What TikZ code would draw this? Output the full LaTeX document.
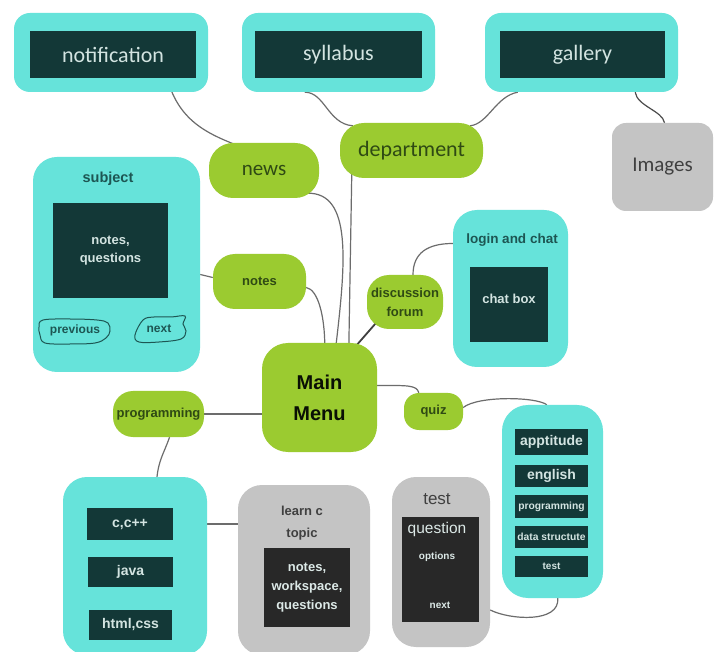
\documentclass[tikz,border=0pt]{standalone}
\usepackage{fontspec}
\setmainfont{Liberation Sans}
\newfontfamily\calibri{Carlito}
\usepackage{tikz}
\usetikzlibrary{backgrounds}
\definecolor{aquabg}{HTML}{66E3DA}
\definecolor{tealdk}{HTML}{133837}
\definecolor{pale}{HTML}{D3E4E1}
\definecolor{leaf}{HTML}{9BCB30}
\definecolor{leafdk}{HTML}{2F4A14}
\definecolor{stone}{HTML}{C4C4C4}
\definecolor{coal}{HTML}{282828}
\definecolor{ink}{HTML}{1D5653}
\definecolor{wire}{HTML}{6C6C6C}
\tikzset{wh/.style 2 args = {minimum width = #1, minimum height = #2}}
\tikzset{panel/.style = {fill = aquabg, inner sep = 0, rounded corners = 24pt}}
\tikzset{greybox/.style = {fill = stone, inner sep = 0, rounded corners = 24pt}}
\tikzset{screen/.style = {fill = tealdk, inner sep = 0, text = pale, align = center,
                          font = \bfseries\fontsize{13}{18}\selectfont}}
\tikzset{topic/.style = {fill = leaf, inner sep = 0, rounded corners = 22pt, text = leafdk,
                         align = center, font = \bfseries\fontsize{13}{19}\selectfont}}
\tikzset{heading/.style = {text = ink, font = \bfseries\fontsize{13.5}{15}\selectfont}}
\tikzset{greytext/.style = {text = pale!80!white, align = center}}
\tikzset{link/.style = {draw = wire, line width = 1.2pt}}
\tikzset{scribble/.style = {draw = ink, line width = 1pt}}

\begin{document}
\begin{tikzpicture}[x = 1pt, y = -1pt]
    \useasboundingbox (0, 0) rectangle (718, 652);

    % top row
    \node [panel, wh = {194pt}{79pt}, rounded corners = 16pt] (notifbox) at (111, 52.5) {};
    \node [screen, wh = {166pt}{47pt}, font = \calibri\fontsize{22}{26}\selectfont] (notif) at (113, 54.5) {notification};
    \node [panel, wh = {193pt}{79pt}, rounded corners = 16pt] (sylbox) at (338.5, 52.5) {};
    \node [screen, wh = {167pt}{47pt}, font = \calibri\fontsize{22}{26}\selectfont] (syl) at (338.5, 54.5) {syllabus};
    \node [panel, wh = {193pt}{79pt}, rounded corners = 16pt] (galbox) at (581.5, 52.5) {};
    \node [screen, wh = {165pt}{47pt}, font = \calibri\fontsize{22}{26}\selectfont] (gal) at (582.5, 54.5) {gallery};
    \node [greybox, wh = {101pt}{88pt}, rounded corners = 14pt, text = black!75,
           font = \calibri\fontsize{21}{25}\selectfont] (images) at (662.5, 167) {Images};

    \node [topic, wh = {143pt}{55pt}, rounded corners = 24pt, font = \calibri\fontsize{22}{26}\selectfont] (dept) at (411.5, 150.5) {department};
    \node [topic, wh = {110pt}{55pt}, rounded corners = 24pt, font = \calibri\fontsize{21}{25}\selectfont] (news) at (264, 170.5) {news};

    % subject
    \node [panel, wh = {167pt}{215pt}] (subjbox) at (116.5, 264.5) {};
    \node [heading, font = \bfseries\fontsize{14.5}{16}\selectfont] (subj) at (108, 179) {subject};
    \node [screen, wh = {115pt}{95pt}] (subjnotes) at (110.5, 250.5) {notes,\\questions};
    \node [heading, font = \bfseries\fontsize{12}{14}\selectfont] (prev) at (75, 330) {previous};
    \node [heading, font = \bfseries\fontsize{12}{14}\selectfont] (subjnext) at (159, 329) {next};
    \draw [scribble, shift = {(prev.center)}] plot [smooth cycle, tension = 0.6]
        coordinates {(-32, -10) (-5, -11) (22, -10) (33, -7) (35, 1) (31, 8) (20, 13) (-5, 14) (-30, 13) (-35, 5) (-36, -3)};
    \draw [scribble, shift = {(subjnext.center)}] plot [smooth cycle, tension = 0.6]
        coordinates {(-16, -9) (-5, -12) (12, -12) (26, -13) (24, -5) (27, 2) (22, 10) (0, 13) (-20, 13) (-24, 6)};

    \node [topic, wh = {93pt}{55pt}] (notes) at (259.5, 281.5) {notes};

    % login and chat
    \node [panel, wh = {115pt}{157pt}] (login) at (510.5, 288.5) {};
    \node [heading] (logintitle) at (512, 240) {login and chat};
    \node [screen, wh = {78pt}{75pt}] (chat) at (509, 304.5) {};
    \node [greytext, text = pale, font = \bfseries\fontsize{13}{15}\selectfont] (chattext) at (509, 299) {chat box};
    \node [topic, wh = {76pt}{54pt}] (disc) at (405, 302) {discussion\\forum};

    \node [topic, wh = {115pt}{109pt}, rounded corners = 26pt, text = black!80!leafdk,
           font = \bfseries\fontsize{20}{31}\selectfont] (main) at (319.5, 397.5) {Main\\Menu};
    \node [topic, wh = {59pt}{37pt}, rounded corners = 15pt] (quiz) at (433.5, 411.5) {quiz};
    \node [topic, wh = {91pt}{46pt}, rounded corners = 20pt] (prog) at (158.5, 414) {programming};

    % quiz topics
    \node [panel, wh = {101pt}{193pt}, rounded corners = 26pt] (qgroup) at (552.5, 501.5) {};
    \node [screen, wh = {73pt}{26pt}, font = \bfseries\fontsize{14}{16}\selectfont] (apt) at (551.5, 442) {apptitude};
    \node [screen, wh = {73pt}{22pt}, font = \bfseries\fontsize{14}{16}\selectfont] (eng) at (551.5, 476) {english};
    \node [screen, wh = {73pt}{23pt}, font = \bfseries\fontsize{10.3}{12}\selectfont] (qprog) at (551.5, 506.5) {programming};
    \node [screen, wh = {73pt}{22pt}, font = \bfseries\fontsize{10.3}{12}\selectfont] (qds) at (551.5, 537) {data structute};
    \node [screen, wh = {73pt}{21pt}, font = \bfseries\fontsize{10}{12}\selectfont] (qtest) at (551.5, 566.5) {test};

    % test
    \node [greybox, wh = {98pt}{170pt}] (testp) at (441, 562) {};
    \node [text = black!75, font = \fontsize{17}{20}\selectfont] (testtitle) at (437, 499) {test};
    \node [fill = coal, inner sep = 0, wh = {77pt}{105pt}] (qscreen) at (440.5, 569.5) {};
    \node [greytext, font = \fontsize{15.5}{18}\selectfont] (quest) at (437, 529) {question};
    \node [greytext, font = \bfseries\fontsize{10}{12}\selectfont] (opts) at (437, 557) {options};
    \node [greytext, font = \bfseries\fontsize{10}{12}\selectfont] (qnext) at (440, 605) {next};

    % learn c
    \node [greybox, wh = {132pt}{170pt}] (learn) at (304, 570) {};
    \node [text = black!75, align = center, font = \bfseries\fontsize{13}{22}\selectfont] (learntitle) at (302, 523) {learn c\\topic};
    \node [fill = coal, inner sep = 0, wh = {86pt}{79pt}, greytext,
           font = \bfseries\fontsize{13}{19}\selectfont] (work) at (307, 587.5) {notes,\\workspace,\\questions};

    % languages
    \node [panel, wh = {144pt}{178pt}] (progbox) at (135, 566) {};
    \node [screen, wh = {86pt}{32pt}, font = \bfseries\fontsize{14}{16}\selectfont] (cpp) at (130, 524) {c,c++};
    \node [screen, wh = {85pt}{30pt}, font = \bfseries\fontsize{14}{16}\selectfont] (java) at (130.5, 572) {java};
    \node [screen, wh = {83pt}{30pt}, font = \bfseries\fontsize{14}{16}\selectfont] (html) at (130.5, 625) {html,css};

    \begin{pgfonlayer}{background}
        \fill [white] (0, 0) rectangle (718, 652);
        \draw [link] ([xshift = -29pt]notif.south east) .. controls +(12, 45) and +(-30, -12) .. ([xshift = 32pt, yshift = -4pt]news.north west);
        \draw [link] ([xshift = 63pt]sylbox.south west) .. controls +(20, 0) and +(-25, -2) .. ([xshift = 13pt, yshift = -3pt]dept.north west);
        \draw [link] ([xshift = 33pt]galbox.south west) .. controls +(-22, 4) and +(18, -2) .. ([xshift = -13pt, yshift = -3pt]dept.north east);
        \draw [link, draw = black!70] ([xshift = -43pt]galbox.south east) .. controls +(2, 14) and +(-2, -12) .. ([xshift = 2pt]images.north);
        \draw [link] ([xshift = -12pt, yshift = 5pt]news.south east) .. controls +(45, -1) and +(10, -85) .. ([xshift = 74pt, yshift = -4pt]main.north west);
        \draw [link] ([xshift = 12pt, yshift = 6pt]dept.south west) -- ([xshift = 87pt, yshift = -6pt]main.north west);
        \draw [link] ([yshift = -6pt]notes.east) .. controls +(12, 2) and +(0, -30) .. ([xshift = 63pt, yshift = -4pt]main.north west);
        \draw [link] ([yshift = -10pt]subjbox.east) -- ([yshift = 4pt]notes.west);
        \draw [link] ([xshift = 8pt]disc.north) .. controls +(0, -22) and +(-25, 0) .. ([yshift = 45pt]login.west);
        \draw [link, draw = black!75, line width = 1.8pt] ([xshift = 9pt, yshift = 6pt]disc.south west) -- ([xshift = -22pt, yshift = -4pt]main.north east);
        \draw [link] ([yshift = 12pt]main.east) .. controls +(30, 0) and +(-2, -8) .. ([xshift = 15pt]quiz.north west);
        \draw [link] ([yshift = 4pt]quiz.east) .. controls +(15, -12) and +(-10, -8) .. ([xshift = 45pt]qgroup.north west);
        \draw [link] ([yshift = -48pt]testp.east) .. controls +(20, 10) and +(2, 25) .. ([xshift = 56pt]qgroup.south west);
        \draw [link] (prog.east) -- (prog.east -| main.west);
        \draw [link] ([xshift = 11pt]prog.south) .. controls +(-5, 15) and +(2, -18) .. ([xshift = 22pt]progbox.north);
        \draw [link] (cpp.east) -- (cpp.east -| learn.west);
    \end{pgfonlayer}
\end{tikzpicture}
\end{document}
